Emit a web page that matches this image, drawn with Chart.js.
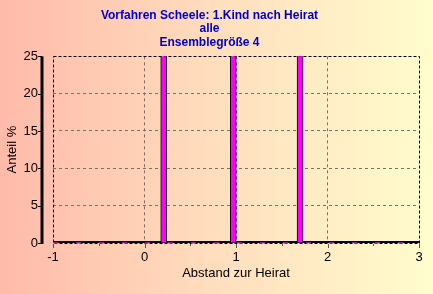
<!DOCTYPE html>
<html>
<head>
<meta charset="utf-8">
<script src="https://cdn.jsdelivr.net/npm/chart.js@4"></script>
<style>
  html, body { margin: 0; padding: 0; }
  #wrap { width: 433px; height: 294px; }
</style>
</head>
<body>
<div id="wrap"><canvas id="chart"></canvas></div>
<script>
// data (bars run past the top of the axis)
var titleLines = ["Vorfahren Scheele: 1.Kind nach Heirat", "alle", "Ensemblegröße 4"];
var barX = [0.21, 0.97, 1.70];
var barY = [33.3, 33.3, 33.3];
var zeroX = [-1, 3];
var zeroY = [0, 0];
var xMin = -1, xMax = 3, yMin = 0, yMax = 25;

var ctx = document.getElementById("chart").getContext("2d");

function gridColor(lo, hi) {
    return function (c) {
        if (!c.tick) return "#807060";
        return (c.tick.value === lo || c.tick.value === hi) ? "rgba(0,0,0,0)" : "#807060";
    };
}

var bgPlugin = {
    id: "bg",
    beforeDraw: function (chart) {
        var c = chart.ctx;
        var g = c.createLinearGradient(0, 0, chart.width, 0);
        g.addColorStop(0, "rgb(255,186,170)");
        g.addColorStop(0.5, "rgb(255,222,190)");
        g.addColorStop(1, "rgb(255,253,205)");
        c.save();
        c.fillStyle = g;
        c.fillRect(0, 0, chart.width, chart.height);
        c.restore();
    },
    beforeDatasetsDraw: function (chart) {
        var c = chart.ctx, a = chart.chartArea;
        var ys = chart.scales.y, xs = chart.scales.x;
        c.save();
        // dashed frame
        c.strokeStyle = "#000";
        c.lineWidth = 1;
        c.setLineDash([3, 2]);
        c.strokeRect(Math.round(a.left) + 0.5, Math.round(a.top) + 0.5,
            Math.round(a.right - a.left), Math.round(a.bottom - a.top));
        c.setLineDash([]);
        // baseline
        c.lineWidth = 2;
        c.beginPath();
        c.moveTo(a.left, a.bottom - 1);
        c.lineTo(a.right, a.bottom - 1);
        c.stroke();
        // thick y axis line with ticks
        var ax = a.left - 11;
        c.lineWidth = 3;
        c.beginPath();
        c.moveTo(ax, ys.getPixelForValue(yMax));
        c.lineTo(ax, ys.getPixelForValue(yMin) + 1);
        c.stroke();
        c.lineWidth = 1;
        for (var v = yMin; v <= yMax; v += 5) {
            var py = Math.round(ys.getPixelForValue(v)) + 0.5;
            c.beginPath();
            c.moveTo(ax - 4, py);
            c.lineTo(ax, py);
            c.stroke();
        }
        // x ticks below axis
        c.strokeStyle = "#555";
        for (var t = xMin; t <= xMax; t += 0.5) {
            var px = Math.round(xs.getPixelForValue(t)) + 0.5;
            c.beginPath();
            c.moveTo(px, a.bottom + 1);
            c.lineTo(px, a.bottom + (t % 1 === 0 ? 5 : 3));
            c.stroke();
        }
        c.restore();
    }
};

new Chart(ctx, {
    type: "bar",
    data: {
        datasets: [{
            type: "line",
            data: zeroX.map(function (x, i) { return { x: x, y: zeroY[i] }; }),
            borderColor: "rgba(255,64,255,0.7)",
            borderWidth: 1.5,
            borderDash: [5, 18],
            pointRadius: 0,
            clip: false,
            order: 2
        }, {
            data: barX.map(function (x, i) { return { x: x, y: barY[i] }; }),
            backgroundColor: "#ff00ff",
            borderColor: "#000",
            borderWidth: 1,
            barThickness: 6,
            order: 1
        }]
    },
    options: {
        responsive: true,
        maintainAspectRatio: false,
        animation: false,
        layout: { padding: { left: 0, right: 14, top: 0, bottom: 0 } },
        plugins: {
            legend: { display: false },
            tooltip: { enabled: false },
            title: {
                display: true,
                text: titleLines,
                color: "#0000c8",
                font: { family: "Liberation Sans", size: 12, weight: "bold", lineHeight: 1.12 },
                padding: { top: 9, bottom: 7 }
            }
        },
        scales: {
            x: {
                type: "linear",
                min: xMin,
                max: xMax,
                offset: false,
                afterFit: function (s) { s.height = 51; },
                grid: { color: gridColor(xMin, xMax), drawTicks: false, offset: false },
                border: { display: false, dash: [3, 3] },
                ticks: {
                    stepSize: 1,
                    padding: 7,
                    color: "#000",
                    font: { family: "Liberation Sans", size: 13 }
                },
                title: {
                    display: true,
                    text: "Abstand zur Heirat",
                    color: "#000",
                    font: { family: "Liberation Sans", size: 13 },
                    padding: { top: 0, bottom: 13 }
                }
            },
            y: {
                min: yMin,
                max: yMax,
                afterFit: function (s) { s.width = 53; },
                grid: { color: gridColor(yMin, yMax), drawTicks: false },
                border: { display: false, dash: [3, 3] },
                ticks: {
                    stepSize: 5,
                    padding: 15,
                    color: "#000",
                    font: { family: "Liberation Sans", size: 13 }
                },
                title: {
                    display: true,
                    text: "Anteil %",
                    color: "#000",
                    font: { family: "Liberation Sans", size: 13 },
                    padding: { top: 5, bottom: 0 }
                }
            }
        }
    },
    plugins: [bgPlugin]
});
</script>
</body>
</html>
